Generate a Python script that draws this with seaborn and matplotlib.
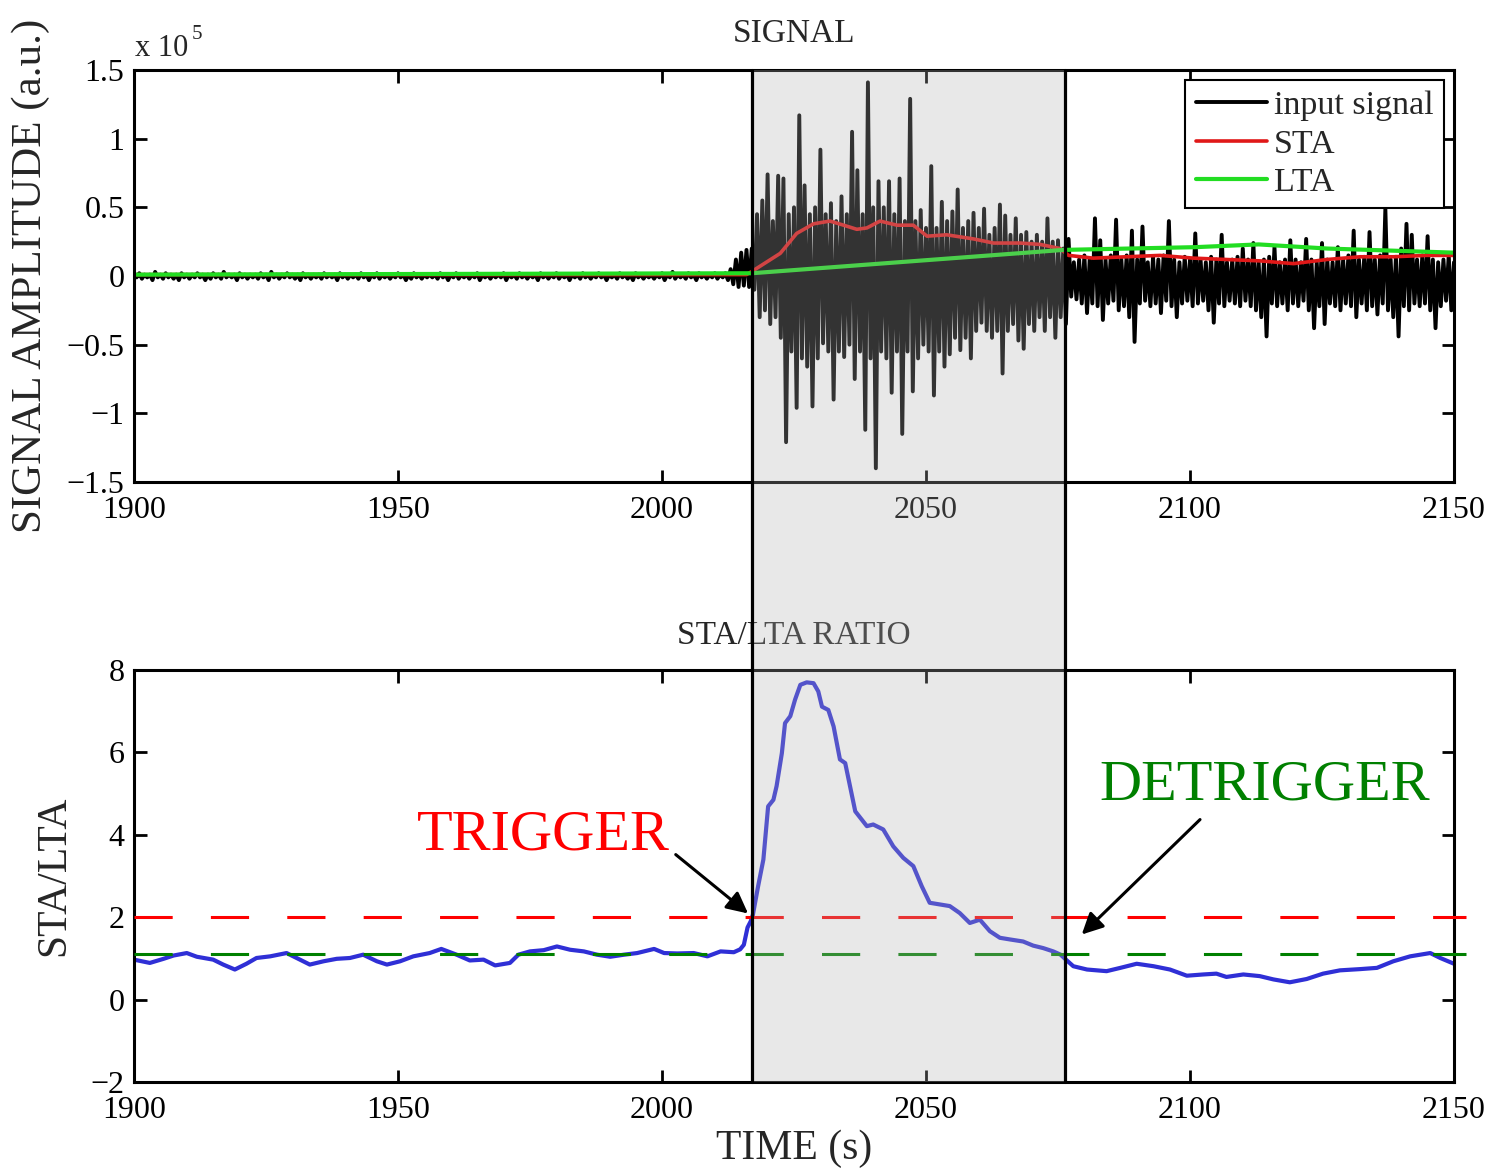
import numpy as np
import pandas as pd
import matplotlib
matplotlib.use("Agg")
import matplotlib.pyplot as plt
import seaborn as sns
from matplotlib.patches import Rectangle
from matplotlib.lines import Line2D
from matplotlib.transforms import blended_transform_factory

# ---------------- data (signal in units of 1e5) ----------------
# quiet part 1900..2016, one upper / lower excursion per second
quiet_hi = [0.01, 0.02, 0.01, 0.01, 0.03, 0.01, 0.02, 0.01, 0.01, 0.02,
            0.01, 0.01, 0.02, 0.01, 0.01, 0.02, 0.01, 0.03, 0.01, 0.01,
            0.02, 0.01, 0.01, 0.01, 0.02, 0.01, 0.03, 0.01, 0.01, 0.02,
            0.01, 0.01, 0.02, 0.01, 0.01, 0.01, 0.02, 0.01, 0.01, 0.02,
            0.01, 0.01, 0.01, 0.02, 0.01, 0.01, 0.02, 0.01, 0.01, 0.01,
            0.02, 0.01, 0.01, 0.02, 0.01, 0.01, 0.01, 0.01, 0.02, 0.01,
            0.01, 0.02, 0.01, 0.01, 0.01, 0.02, 0.01, 0.01, 0.01, 0.01,
            0.02, 0.01, 0.01, 0.02, 0.01, 0.01, 0.01, 0.02, 0.01, 0.01,
            0.02, 0.01, 0.01, 0.01, 0.01, 0.02, 0.01, 0.01, 0.02, 0.01,
            0.01, 0.01, 0.02, 0.01, 0.01, 0.02, 0.01, 0.01, 0.01, 0.01,
            0.02, 0.01, 0.03, 0.01, 0.01, 0.02, 0.01, 0.02, 0.01, 0.01,
            0.02, 0.01, 0.02, 0.05, 0.12, 0.17, 0.19]
quiet_lo = [-0.01, -0.02, -0.01, -0.03, -0.01, -0.02, -0.01, -0.02, -0.03, -0.01,
            -0.02, -0.01, -0.01, -0.03, -0.02, -0.01, -0.02, -0.01, -0.01, -0.03,
            -0.01, -0.02, -0.01, -0.02, -0.01, -0.03, -0.01, -0.02, -0.01, -0.01,
            -0.02, -0.03, -0.01, -0.02, -0.01, -0.02, -0.01, -0.01, -0.03, -0.01,
            -0.02, -0.01, -0.02, -0.01, -0.03, -0.01, -0.02, -0.01, -0.02, -0.01,
            -0.01, -0.03, -0.02, -0.01, -0.02, -0.01, -0.01, -0.02, -0.01, -0.03,
            -0.01, -0.02, -0.01, -0.02, -0.01, -0.03, -0.01, -0.02, -0.01, -0.01,
            -0.03, -0.01, -0.02, -0.01, -0.02, -0.01, -0.03, -0.01, -0.02, -0.01,
            -0.02, -0.01, -0.03, -0.01, -0.02, -0.01, -0.02, -0.01, -0.01, -0.03,
            -0.01, -0.02, -0.01, -0.02, -0.03, -0.01, -0.02, -0.01, -0.02, -0.01,
            -0.03, -0.01, -0.02, -0.01, -0.02, -0.01, -0.03, -0.01, -0.02, -0.01,
            -0.02, -0.01, -0.03, -0.06, -0.08, -0.07, -0.08]
# event part 2017..2076
burst_hi = [0.20, 0.45, 0.55, 0.74, 0.40, 0.73, 0.71, 0.45, 0.50, 1.17,
            0.66, 0.45, 0.50, 0.92, 0.45, 0.53, 0.40, 0.58, 0.45, 1.05,
            0.77, 0.45, 1.41, 0.50, 0.69, 0.50, 0.69, 0.45, 0.71, 0.40,
            1.29, 0.40, 0.48, 0.35, 0.80, 0.35, 0.54, 0.40, 0.47, 0.63,
            0.35, 0.40, 0.46, 0.35, 0.49, 0.30, 0.35, 0.52, 0.44, 0.30,
            0.42, 0.30, 0.32, 0.25, 0.30, 0.25, 0.42, 0.25, 0.26, 0.20]
burst_lo = [-0.10, -0.30, -0.25, -0.35, -0.30, -0.45, -1.21, -0.55, -0.96, -0.60,
            -0.66, -0.95, -0.60, -0.49, -0.55, -0.90, -0.55, -0.59, -0.50, -0.75,
            -0.55, -1.12, -0.60, -1.40, -0.55, -0.60, -0.85, -0.55, -1.15, -0.55,
            -0.84, -0.60, -0.50, -0.55, -0.87, -0.55, -0.66, -0.57, -0.45, -0.54,
            -0.45, -0.60, -0.40, -0.34, -0.40, -0.45, -0.40, -0.71, -0.40, -0.35,
            -0.47, -0.53, -0.35, -0.40, -0.30, -0.40, -0.30, -0.45, -0.30, -0.35]
# coda 2077..2150
coda_hi = [0.27, 0.10, 0.12, 0.15, 0.12, 0.42, 0.26, 0.12, 0.15, 0.41,
           0.12, 0.15, 0.33, 0.12, 0.36, 0.10, 0.14, 0.12, 0.15, 0.40,
           0.12, 0.10, 0.14, 0.12, 0.31, 0.12, 0.10, 0.14, 0.12, 0.30,
           0.10, 0.12, 0.14, 0.20, 0.12, 0.24, 0.10, 0.12, 0.14, 0.21,
           0.10, 0.12, 0.26, 0.12, 0.10, 0.27, 0.12, 0.10, 0.24, 0.12,
           0.10, 0.21, 0.12, 0.15, 0.33, 0.12, 0.14, 0.32, 0.12, 0.15,
           0.49, 0.12, 0.14, 0.20, 0.38, 0.30, 0.12, 0.15, 0.29, 0.12,
           0.10, 0.12, 0.15, 0.10]
coda_lo = [-0.15, -0.17, -0.20, -0.27, -0.20, -0.22, -0.32, -0.20, -0.18, -0.25,
           -0.22, -0.30, -0.48, -0.20, -0.18, -0.22, -0.20, -0.27, -0.18, -0.22,
           -0.30, -0.20, -0.18, -0.22, -0.20, -0.18, -0.25, -0.34, -0.20, -0.22,
           -0.18, -0.20, -0.22, -0.18, -0.22, -0.25, -0.30, -0.44, -0.20, -0.22,
           -0.20, -0.25, -0.20, -0.22, -0.18, -0.25, -0.38, -0.22, -0.35, -0.20,
           -0.22, -0.25, -0.20, -0.22, -0.30, -0.20, -0.25, -0.22, -0.28, -0.20,
           -0.25, -0.30, -0.44, -0.22, -0.25, -0.20, -0.22, -0.20, -0.25, -0.38,
           -0.22, -0.18, -0.25, -0.20]

sta_t = [1900, 1950, 2000, 2016, 2017.3, 2022.4, 2025.5, 2028.7, 2031.8, 2034.4,
         2036.9, 2038.8, 2041.3, 2044.5, 2047.6, 2050.2, 2053.9, 2059.0, 2062.8,
         2067.8, 2071.6, 2075.4, 2077.0, 2081.7, 2088.0, 2094.3, 2100.7, 2107.0,
         2113.3, 2119.6, 2125.9, 2132.2, 2138.5, 2144.8, 2150.0]
sta_v = [0.01, 0.01, 0.01, 0.01, 0.04, 0.165, 0.31, 0.38, 0.40, 0.37,
         0.34, 0.35, 0.40, 0.37, 0.37, 0.29, 0.30, 0.27, 0.24,
         0.24, 0.23, 0.20, 0.15, 0.13, 0.14, 0.15, 0.13, 0.12,
         0.11, 0.09, 0.12, 0.14, 0.14, 0.15, 0.15]
lta_t = [1900, 2017, 2076, 2101, 2113, 2126, 2150]
lta_v = [0.01, 0.02, 0.19, 0.21, 0.23, 0.20, 0.17]

ratio_t = [1900.0, 1903.0, 1905.6, 1907.5, 1910.0, 1911.9, 1915.0, 1916.9, 1919.1, 1921.3,
           1923.2, 1925.8, 1928.9, 1930.8, 1933.3, 1935.9, 1938.4, 1940.9, 1943.4, 1946.0,
           1947.9, 1950.4, 1952.9, 1956.0, 1958.2, 1961.1, 1963.6, 1966.2, 1968.4, 1971.2,
           1972.8, 1975.0, 1977.6, 1980.1, 1982.6, 1985.2, 1987.7, 1990.2, 1992.8, 1995.3,
           1998.5, 2000.4, 2002.9, 2006.0, 2008.6, 2011.1, 2013.6, 2014.8, 2015.5, 2016.2,
           2016.8, 2017.2, 2018.2, 2019.2, 2020.1, 2021.1, 2021.7, 2022.7, 2023.3, 2024.3,
           2025.2, 2026.2, 2027.4, 2028.7, 2029.6, 2030.3, 2031.5, 2032.5, 2033.7, 2034.7,
           2036.6, 2038.8, 2040.0, 2041.9, 2043.8, 2045.7, 2047.6, 2049.2, 2050.7, 2052.6,
           2054.5, 2056.4, 2058.3, 2060.2, 2062.1, 2064.0, 2065.9, 2068.4, 2070.3, 2072.2,
           2074.1, 2075.5, 2076.5, 2077.9, 2080.5, 2084.2, 2086.8, 2089.9, 2093.1, 2096.2,
           2099.4, 2102.5, 2105.0, 2106.9, 2110.1, 2113.2, 2115.8, 2118.9, 2122.1, 2125.2,
           2128.4, 2132.2, 2135.4, 2138.5, 2141.7, 2145.5, 2147.4, 2150.0]
ratio_v = [0.97, 0.89, 0.99, 1.07, 1.13, 1.04, 0.97, 0.85, 0.73, 0.87,
           1.01, 1.05, 1.13, 1.01, 0.85, 0.93, 0.99, 1.01, 1.09, 0.93,
           0.85, 0.93, 1.05, 1.13, 1.23, 1.09, 0.95, 0.97, 0.83, 0.89,
           1.09, 1.17, 1.20, 1.29, 1.21, 1.17, 1.09, 1.04, 1.09, 1.13,
           1.23, 1.13, 1.12, 1.13, 1.05, 1.17, 1.15, 1.22, 1.33, 1.75,
           1.90, 2.05, 2.75, 3.40, 4.69, 4.85, 5.18, 5.98, 6.71, 6.88,
           7.28, 7.64, 7.70, 7.68, 7.48, 7.11, 7.03, 6.63, 5.83, 5.74,
           4.57, 4.21, 4.25, 4.13, 3.72, 3.44, 3.24, 2.75, 2.35, 2.31,
           2.27, 2.10, 1.86, 1.94, 1.66, 1.50, 1.46, 1.41, 1.31, 1.25,
           1.17, 1.09, 0.97, 0.81, 0.73, 0.69, 0.77, 0.87, 0.81, 0.73,
           0.58, 0.61, 0.63, 0.55, 0.61, 0.57, 0.49, 0.42, 0.50, 0.63,
           0.71, 0.74, 0.77, 0.93, 1.05, 1.13, 1.01, 0.87]

trigger_level = 2.0
detrigger_level = 1.1
event_start, event_end = 2017.0, 2076.3

sig_ticks = [-1.5, -1, -0.5, 0, 0.5, 1, 1.5]
sig_ticklabels = ["\u22121.5", "\u22121", "\u22120.5", "0", "0.5", "1", "1.5"]
ratio_ticks = [-2, 0, 2, 4, 6, 8]
ratio_ticklabels = ["\u22122", "0", "2", "4", "6", "8"]
time_ticks = [1900, 1950, 2000, 2050, 2100, 2150]

# ---------------- build signal trace ----------------
def trace(t0, hi, lo):
    tt, vv = [], []
    for i, (h, l) in enumerate(zip(hi, lo)):
        tt += [t0 + i, t0 + i + 0.5]
        vv += [h, l]
    return tt, vv

t1, v1 = trace(1900, quiet_hi, quiet_lo)
t2, v2 = trace(2017, burst_hi, burst_lo)
t3, v3 = trace(2077, coda_hi, coda_lo)
sig_df = pd.DataFrame({"t": t1 + t2 + t3, "v": v1 + v2 + v3})
sta_df = pd.DataFrame({"t": sta_t, "v": sta_v})
lta_df = pd.DataFrame({"t": lta_t, "v": lta_v})
ratio_df = pd.DataFrame({"t": ratio_t, "v": ratio_v})

# ---------------- style ----------------
sns.set_theme(style="ticks")
plt.rcParams['font.family'] = ['Liberation Serif', 'DejaVu Serif']
plt.rcParams['axes.linewidth'] = 2.0
TICK_FS = 23

fig = plt.figure(figsize=(14.94, 11.68), dpi=100)
ax1 = fig.add_axes([134/1494, 1-482/1168, 1320/1494, 412/1168])
ax2 = fig.add_axes([134/1494, 1-1082/1168, 1320/1494, 412/1168])

BLACK = "#000000"
sns.lineplot(data=sig_df, x="t", y="v", ax=ax1, sort=False, estimator=None,
             color=BLACK, lw=2.8, label="input signal")
sns.lineplot(data=sta_df, x="t", y="v", ax=ax1, sort=False, estimator=None,
             color="#e01818", lw=2.6, label="STA")
sns.lineplot(data=lta_df, x="t", y="v", ax=ax1, sort=False, estimator=None,
             color="#22dd22", lw=3.0, label="LTA")

sns.lineplot(data=ratio_df, x="t", y="v", ax=ax2, sort=False, estimator=None,
             color="#2f2fd6", lw=3.0)

dash = (0, (12.5, 12.5))
ax2.plot([1900, 2152.3], [trigger_level]*2, color="#ff0000", lw=2.2,
         linestyle=dash, clip_on=False, zorder=3)
ax2.plot([1900, 2152.3], [detrigger_level]*2, color="#008000", lw=2.2,
         linestyle=dash, clip_on=False, zorder=3)

for ax, ticks, labels, lim in [(ax1, sig_ticks, sig_ticklabels, (-1.5, 1.5)),
                               (ax2, ratio_ticks, ratio_ticklabels, (-2, 8))]:
    ax.set_xlim(1900, 2150)
    ax.set_ylim(*lim)
    ax.set_xticks(time_ticks)
    ax.set_xticklabels([str(t) for t in time_ticks])
    ax.set_yticks(ticks)
    ax.set_yticklabels(labels)
    ax.tick_params(direction="in", length=9, width=2, top=True, right=True,
                   labelsize=TICK_FS, colors="black", pad=7)
    ax.tick_params(axis="x", pad=10)
    for s in ax.spines.values():
        s.set_visible(True)
        s.set_linewidth(2.2)
        s.set_color("black")
    ax.set_facecolor("white")
    ax.set_xlabel("")
    ax.set_ylabel("")

ax1.set_title("SIGNAL", fontsize=24, pad=20)
ax2.set_title("STA/LTA RATIO", fontsize=24, pad=19)
ax1.set_ylabel("SIGNAL AMPLITUDE (a.u.)", fontsize=31)
ax1.yaxis.set_label_coords(-0.064, 0.5)
ax2.set_ylabel("STA/LTA", fontsize=30)
ax2.yaxis.set_label_coords(-0.046, 0.5)
ax2.set_xlabel("TIME (s)", fontsize=30)
ax2.xaxis.set_label_coords(0.5, -0.115)

ax1.text(0.001, 1.034, "x 10", transform=ax1.transAxes, fontsize=22,
         ha="left", va="baseline")
ax1.text(0.044, 1.075, "5", transform=ax1.transAxes, fontsize=15,
         ha="left", va="baseline")

leg = ax1.legend(loc="upper right", fontsize=24.5, frameon=True, fancybox=False,
                 edgecolor="black", framealpha=1, handlelength=2.1,
                 borderaxespad=0.3, labelspacing=0.22, handletextpad=0.2,
                 borderpad=0.3)
leg.get_frame().set_linewidth(1.5)

# annotations
ax2.text(1977.5, 3.64, "TRIGGER", color="#ff0000", fontsize=42,
         ha="center", va="baseline")
ax2.text(2114.2, 4.85, "DETRIGGER", color="#008000", fontsize=42,
         ha="center", va="baseline")
ax2.annotate("", xy=(2016.3, 2.09), xytext=(2002.6, 3.52),
             arrowprops=dict(arrowstyle="-|>", color="black", lw=2.2,
                             mutation_scale=32, shrinkA=0, shrinkB=0))
ax2.annotate("", xy=(2079.5, 1.58), xytext=(2101.9, 4.37),
             arrowprops=dict(arrowstyle="-|>", color="black", lw=2.2,
                             mutation_scale=32, shrinkA=0, shrinkB=0))

# event window spanning both panels
tr = blended_transform_factory(ax2.transData, fig.transFigure)
y0f, y1f = 1 - 1082/1168, 1 - 70/1168
fig.add_artist(Rectangle((event_start, y0f), event_end - event_start, y1f - y0f,
                         transform=tr, facecolor=(0.69, 0.69, 0.69), alpha=0.29,
                         edgecolor="none", zorder=10))
for xv in (event_start, event_end):
    fig.add_artist(Line2D([xv, xv], [y0f, y1f], transform=tr, color="black",
                          lw=2.3, zorder=11))

fig.savefig("out.png", dpi=100, facecolor="white")
